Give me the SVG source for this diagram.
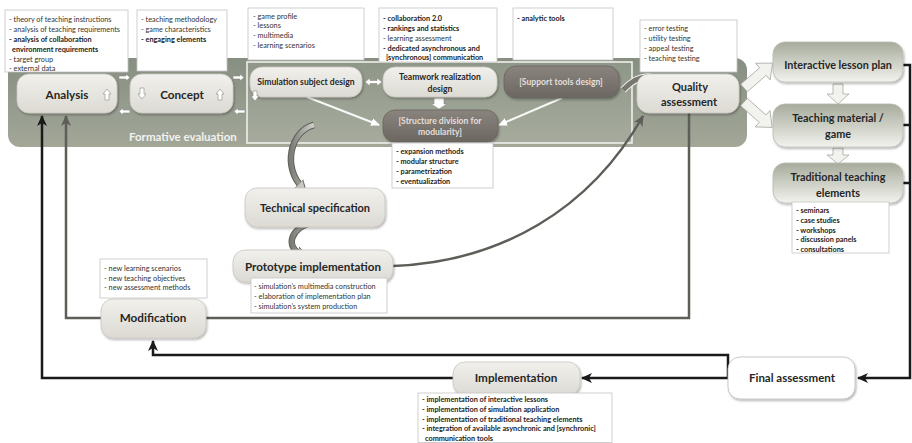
<svg xmlns="http://www.w3.org/2000/svg" width="912" height="443" viewBox="0 0 912 443">
<defs>
<linearGradient id="gPanel" x1="0" y1="0" x2="0" y2="1"><stop offset="0" stop-color="#878f82"/><stop offset="1" stop-color="#a2a798"/></linearGradient>
<linearGradient id="gInner" x1="0" y1="0" x2="0" y2="1"><stop offset="0" stop-color="#8f9788"/><stop offset="1" stop-color="#a6ab9d"/></linearGradient>
<linearGradient id="gLight" x1="0" y1="0" x2="0" y2="1"><stop offset="0" stop-color="#f1f0ec"/><stop offset="1" stop-color="#dcdad3"/></linearGradient>
<linearGradient id="gDark" x1="0" y1="0" x2="0" y2="1"><stop offset="0" stop-color="#8a847e"/><stop offset="1" stop-color="#6c6661"/></linearGradient>
<linearGradient id="gRight" x1="0" y1="0" x2="0" y2="1"><stop offset="0" stop-color="#a6ab9c"/><stop offset="1" stop-color="#f3f3ee"/></linearGradient>
<linearGradient id="gCurl" x1="0" y1="0" x2="1" y2="0"><stop offset="0" stop-color="#7c7c77"/><stop offset="1" stop-color="#d2d2cc"/></linearGradient>
<filter id="sh" x="-10%" y="-10%" width="130%" height="140%"><feDropShadow dx="1" dy="1.5" stdDeviation="1" flood-color="#000" flood-opacity="0.3"/></filter>
<marker id="aBlk" markerUnits="userSpaceOnUse" markerWidth="12" markerHeight="12" refX="10" refY="6" orient="auto"><path d="M0,1 L11,6 L0,11 L3,6 z" fill="#1a1a1a"/></marker>
<marker id="aGry" markerUnits="userSpaceOnUse" markerWidth="12" markerHeight="12" refX="10" refY="6" orient="auto"><path d="M0,1 L11,6 L0,11 L3,6 z" fill="#5e5e59"/></marker>
<marker id="aWht" markerUnits="userSpaceOnUse" markerWidth="10" markerHeight="10" refX="8" refY="5" orient="auto"><path d="M0,1 L9,5 L0,9 z" fill="#ffffff"/></marker>
<marker id="aCurl" markerUnits="userSpaceOnUse" markerWidth="14" markerHeight="14" refX="6" refY="7" orient="auto"><path d="M0,1 L10,7 L0,13 z" fill="#c8c8c2" stroke="#5a5a56" stroke-width="0.8"/></marker>
</defs>
<style>
text{font-family:Lato,"Liberation Sans",sans-serif;fill:#262626}
.s{font-size:7.3px;fill:#333}
.sb{font-size:7.3px;font-weight:bold;fill:#222}
.lbl{font-weight:bold;text-anchor:middle}
.box{fill:#fff;stroke:#c4c4c4;stroke-width:0.8}
.ln{fill:url(#gLight);stroke:#c9c7c0;stroke-width:0.8}
.dn{fill:url(#gDark);stroke:#6a645f;stroke-width:0.8}
.rn{fill:url(#gRight);stroke:#b9bbb1;stroke-width:0.8}
.blk{fill:none;stroke:#1a1a1a;stroke-width:2.5}
.gry{fill:none;stroke:#5e5e59;stroke-width:2.5}
.sm{fill:#fff;stroke:#8c8c86;stroke-width:0.6}
.blkarr{fill:#f2f2ee;stroke:#a9aaa2;stroke-width:0.8}
</style>

<g id="formative-panel">
<rect x="8" y="58" width="739" height="89" rx="12" fill="url(#gPanel)"/>
<rect x="247" y="62" width="385" height="81" fill="url(#gInner)" stroke="#f4f4f0" stroke-width="1.5"/>
<text x="129" y="141" style="font-size:11.5px;font-weight:bold;fill:#f2f2ee">Formative evaluation</text>
</g>

<g id="notes">
<g id="note-analysis">
<rect class="box" x="5" y="10" width="123" height="62"/>
<text class="s" x="9" y="21.5">- theory of teaching instructions</text>
<text class="s" x="9" y="31.5">- analysis of teaching requirements</text>
<text class="sb" x="9" y="41.5">- analysis of collaboration</text>
<text class="sb" x="12" y="51.5">environment requirements</text>
<text class="s" x="9" y="61.5">- target group</text>
<text class="s" x="9" y="70.5">- external data</text>
</g>
<g id="note-concept">
<rect class="box" x="137" y="10" width="90" height="61"/>
<text class="s" x="141" y="21.5">- teaching methodology</text>
<text class="s" x="141" y="31.5">- game characteristics</text>
<text class="sb" x="141" y="41.5">- engaging elements</text>
</g>
<g id="note-simulation">
<rect class="box" x="248" y="8" width="116" height="52"/>
<text class="s" x="253" y="18.5">- game profile</text>
<text class="s" x="253" y="28">- lessons</text>
<text class="s" x="253" y="37.5">- multimedia</text>
<text class="s" x="253" y="47.5">- learning scenarios</text>
</g>
<g id="note-teamwork">
<rect class="box" x="379" y="8" width="118" height="54"/>
<text class="sb" x="383" y="20.5">- collaboration 2.0</text>
<text class="sb" x="383" y="30.5">- rankings and statistics</text>
<text class="s" x="383" y="40.5">- learning assessment</text>
<text class="sb" x="383" y="50.5">- dedicated asynchronous and</text>
<text class="sb" x="386" y="60">[synchronous] communication</text>
</g>
<g id="note-support">
<rect class="box" x="513" y="8" width="100" height="52"/>
<text class="sb" x="517" y="20.5">- analytic tools</text>
</g>
<g id="note-quality">
<rect class="box" x="640" y="20" width="97" height="52"/>
<text class="s" x="644" y="30.5">- error testing</text>
<text class="s" x="644" y="40.5">- utility testing</text>
<text class="s" x="644" y="50.5">- appeal testing</text>
<text class="s" x="644" y="60.5">- teaching testing</text>
</g>
</g>

<g id="connectors">
<path class="gry" d="M689,113 V318 H206"/>
<path class="gry" d="M101,318 H66 V116" marker-end="url(#aGry)"/>
<path class="gry" d="M393,266 C500,262 590,210 643,116" marker-end="url(#aGry)"/>
<path class="blk" d="M903,65 H910 V378 H858" marker-end="url(#aBlk)"/>
<path class="blk" d="M903,125 H910 M903,183 H910"/>
<path class="blk" d="M728,378 V355 H153 V341" marker-end="url(#aBlk)"/>
<path class="blk" d="M728,378 H582" marker-end="url(#aBlk)"/>
<path class="blk" d="M453,378 H42 V116" marker-end="url(#aBlk)"/>
<path d="M307,97 L379,125" stroke="#f8f8f6" stroke-width="2" fill="none" marker-end="url(#aWht)"/>
<path d="M562,98 L499,125" stroke="#f8f8f6" stroke-width="2" fill="none" marker-end="url(#aWht)"/>
<polygon class="sm" points="434,98 444,98 444,104 447,104 439,109 431,104 434,104"/>
<polygon class="sm" points="365,82 370,78 370,80.5 377,80.5 377,78 382,82 377,86 377,83.5 370,83.5 370,86"/>
<path d="M314,125 C290,131 282,168 303,188" stroke="#5f5f5b" stroke-width="6.5" fill="none"/>
<path d="M314,125 C290,131 282,168 303,188" stroke="url(#gCurl)" stroke-width="4.5" fill="none" marker-end="url(#aCurl)"/>
<path d="M314,222 C290,227 284,248 303,255" stroke="#5f5f5b" stroke-width="6.5" fill="none"/>
<path d="M314,222 C290,227 284,248 303,255" stroke="url(#gCurl)" stroke-width="4.5" fill="none" marker-end="url(#aCurl)"/>
<path d="M623,90 Q646,66 668,86" stroke="#f0f0ec" stroke-width="7" fill="none"/>
<path d="M623,90 Q646,66 668,86" stroke="#77776f" stroke-width="5" fill="none" marker-end="url(#aCurl)"/>
<polygon class="blkarr" points="0,-5 25,-5 25,-11 38,0 25,11 25,5 0,5" transform="translate(744,88) rotate(-41)"/>
<polygon class="blkarr" points="0,-5 25,-5 25,-11 38,0 25,11 25,5 0,5" transform="translate(744,102) rotate(42)"/>
<polygon class="blkarr" points="833,84 843,84 843,94 849,94 838,104 827,94 833,94"/>
<polygon class="blkarr" points="833,148 843,148 843,155 849,155 838,164 827,155 833,155"/>
<polygon class="sm" points="119,76 126,76 126,74 130,77.5 126,81 126,79 119,79"/>
<polygon class="sm" points="130,110 123,110 123,108 119,111.5 123,115 123,113 130,113"/>
<polygon class="sm" points="233,76 240,76 240,74 244,77.5 240,81 240,79 233,79"/>
<polygon class="sm" points="245,110 238,110 238,108 234,111.5 238,115 238,113 245,113"/>
</g>

<g id="analysis">
<rect class="ln" x="17" y="74" width="100" height="39" rx="12" filter="url(#sh)"/>
<text class="lbl" x="67" y="98.5" style="font-size:11.7px">Analysis</text>
<polygon class="sm" points="105,100 109,100 109,94 111,94 107,89 103,94 105,94"/>
</g>
<g id="concept">
<rect class="ln" x="130" y="74" width="103" height="39" rx="12" filter="url(#sh)"/>
<text class="lbl" x="182" y="98.5" style="font-size:11.7px">Concept</text>
<polygon class="sm" points="140,88 144,88 144,94 146,94 142,99 138,94 140,94"/>
<polygon class="sm" points="218,100 222,100 222,94 224,94 220,89 216,94 218,94"/>
</g>
<g id="simulation-subject-design">
<rect class="ln" x="250" y="67" width="112" height="30" rx="12" filter="url(#sh)"/>
<text class="lbl" x="306" y="85" style="font-size:8.6px">Simulation subject design</text>
<polygon class="sm" points="253,91 257,91 257,96 259,96 255,101 251,96 253,96"/>
</g>
<g id="teamwork-realization-design">
<rect class="ln" x="383" y="67" width="114" height="30" rx="12" filter="url(#sh)"/>
<text class="lbl" x="440" y="80" style="font-size:8.6px">Teamwork realization</text>
<text class="lbl" x="440" y="91.5" style="font-size:8.6px">design</text>
</g>
<g id="structure-division">
<rect class="dn" x="383" y="110" width="115" height="32" rx="12" filter="url(#sh)"/>
<text class="lbl" x="440" y="123.5" style="font-size:8.6px;fill:#e2dfda">[Structure division for</text>
<text class="lbl" x="440" y="135" style="font-size:8.6px;fill:#e2dfda">modularity]</text>
</g>
<g id="support-tools-design">
<rect class="dn" x="504" y="66" width="115" height="32" rx="12" filter="url(#sh)"/>
<text class="lbl" x="561" y="85" style="font-size:8.6px;fill:#e2dfda">[Support tools design]</text>
</g>
<g id="quality-assessment">
<rect class="ln" x="637" y="74" width="102" height="39" rx="12" filter="url(#sh)"/>
<text class="lbl" x="690" y="91" style="font-size:11px">Quality</text>
<text class="lbl" x="689" y="106" style="font-size:11px">assessment</text>
</g>
<g id="note-structure">
<rect class="box" x="392" y="143" width="101" height="45"/>
<text class="sb" x="396" y="153.5">- expansion methods</text>
<text class="sb" x="396" y="163.5">- modular structure</text>
<text class="sb" x="396" y="173.5">- parametrization</text>
<text class="sb" x="396" y="183.5">- eventualization</text>
</g>
<g id="interactive-lesson-plan">
<rect class="rn" x="773" y="42" width="130" height="40" rx="12" filter="url(#sh)"/>
<text class="lbl" x="838" y="69" style="font-size:10.8px">Interactive lesson plan</text>
</g>
<g id="teaching-material">
<rect class="rn" x="773" y="104" width="130" height="43" rx="12" filter="url(#sh)"/>
<text class="lbl" x="838" y="122" style="font-size:10.8px">Teaching material /</text>
<text class="lbl" x="838" y="138" style="font-size:10.8px">game</text>
</g>
<g id="traditional-teaching-elements">
<rect class="rn" x="773" y="163" width="130" height="40" rx="12" filter="url(#sh)"/>
<text class="lbl" x="838" y="180.5" style="font-size:10.8px">Traditional teaching</text>
<text class="lbl" x="838" y="196.5" style="font-size:10.8px">elements</text>
<rect class="box" x="792" y="202" width="97" height="51"/>
<text class="sb" x="796" y="212.5">- seminars</text>
<text class="sb" x="796" y="222.5">- case studies</text>
<text class="sb" x="796" y="232.5">- workshops</text>
<text class="sb" x="796" y="242">- discussion panels</text>
<text class="sb" x="796" y="251.5">- consultations</text>
</g>
<g id="technical-specification">
<rect class="ln" x="245" y="188" width="140" height="39" rx="12" filter="url(#sh)"/>
<text class="lbl" x="315" y="212" style="font-size:11px">Technical specification</text>
</g>
<g id="prototype-implementation">
<rect class="ln" x="233" y="250" width="160" height="32" rx="12" filter="url(#sh)"/>
<text class="lbl" x="313" y="270.5" style="font-size:11.6px">Prototype implementation</text>
<rect class="box" x="251" y="278" width="136" height="35"/>
<text class="s" x="254" y="288.5">- simulation’s multimedia construction</text>
<text class="s" x="254" y="298.5">- elaboration of implementation plan</text>
<text class="s" x="254" y="308.5">- simulation’s system production</text>
</g>
<g id="modification">
<rect class="box" x="100" y="259" width="107" height="39"/>
<text class="s" x="104" y="270.5">- new learning scenarios</text>
<text class="s" x="104" y="280.5">- new teaching objectives</text>
<text class="s" x="104" y="290">- new assessment methods</text>
<rect class="ln" x="101" y="299" width="105" height="39" rx="12" filter="url(#sh)"/>
<text class="lbl" x="153" y="322" style="font-size:11.7px">Modification</text>
</g>
<g id="implementation">
<rect class="ln" x="453" y="362" width="127" height="33" rx="12" filter="url(#sh)"/>
<text class="lbl" x="516" y="382" style="font-size:11.7px">Implementation</text>
<rect class="box" x="418" y="393" width="194" height="49.5"/>
<text class="sb" x="422" y="401.5">- implementation of interactive lessons</text>
<text class="sb" x="422" y="411.5">- implementation of simulation application</text>
<text class="sb" x="422" y="421.5">- implementation of traditional teaching elements</text>
<text class="sb" x="422" y="431">- integration of available asynchronic and [synchronic]</text>
<text class="sb" x="425" y="441">communication tools</text>
</g>
<g id="final-assessment">
<rect x="728" y="357" width="127" height="42" rx="12" fill="#fff" stroke="#bdbdb8" stroke-width="0.8" filter="url(#sh)"/>
<text class="lbl" x="792" y="382" style="font-size:11.5px">Final assessment</text>
</g>
</svg>
